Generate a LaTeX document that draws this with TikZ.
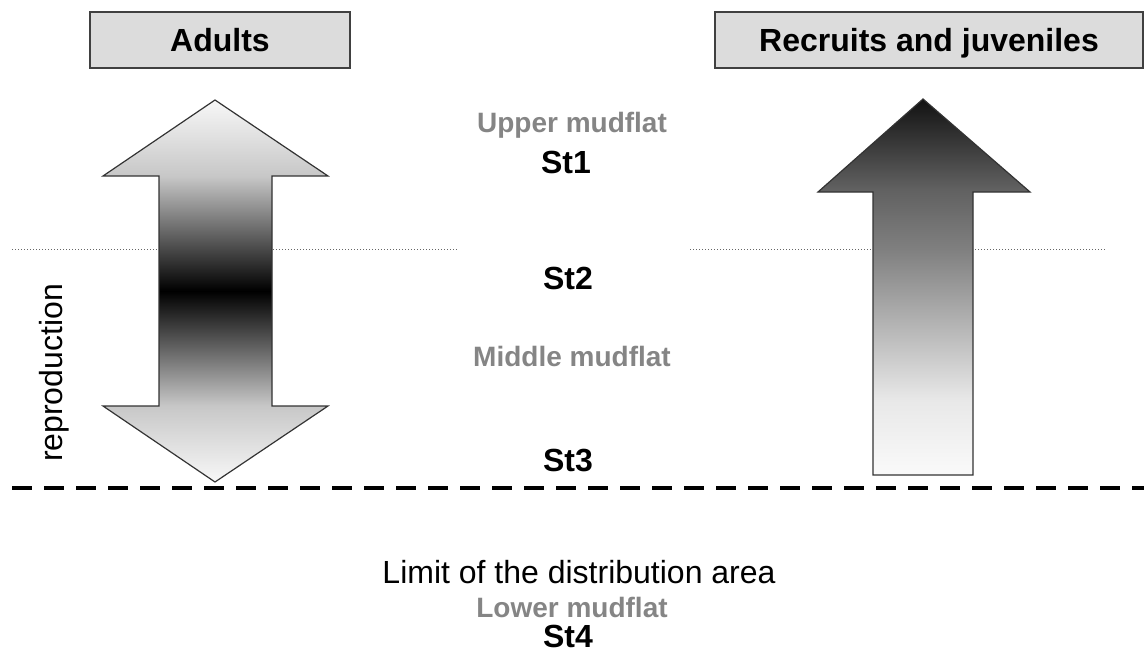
\documentclass[tikz,border=0pt]{standalone}
\usepackage{fontspec}
\setmainfont{Liberation Sans}
\usepackage{tikz}
\definecolor{headbg}{HTML}{DCDCDC}
\definecolor{zonegray}{HTML}{858585}
\pgfdeclareverticalshading{adultfade}{100bp}{color(0bp)=(black!3); color(25bp)=(black!3);
  color(35bp)=(black!22); color(50bp)=(black); color(65bp)=(black!22);
  color(75bp)=(black!3); color(100bp)=(black!3)}
\pgfdeclareverticalshading{recruitfade}{100bp}{color(0bp)=(black!2); color(25bp)=(black!2);
  color(35bp)=(black!9); color(55bp)=(black!50); color(63bp)=(black!62);
  color(75bp)=(black!93); color(100bp)=(black!93)}

\begin{document}
\begin{tikzpicture}[
  x=0.75pt, y=-0.75pt,
  header/.style={rectangle, draw=black!75, line width=1pt, fill=headbg,
    font=\fontsize{24}{28}\selectfont\bfseries, minimum height=42pt, inner sep=0pt,
    text height=17.2pt, text depth=0pt},
  stn/.style={anchor=base, font=\fontsize{24}{28}\selectfont\bfseries},
  zone/.style={anchor=base, text=zonegray, font=\fontsize{21}{25}\selectfont\bfseries},
  plain/.style={font=\fontsize{24}{28}\selectfont},
  band/.style={draw=black!60, line width=0.75pt, dash pattern=on 0.75pt off 1.5pt},
  limitline/.style={draw=black, line width=3pt, dash pattern=on 15pt off 9pt},
  bigarrow/.style={draw=black!80, line width=0.9pt, line join=miter}
]
\useasboundingbox (0,0) rectangle (1144,653);

\node[header, minimum width=195pt] (adults)   at (220,40) {Adults};
\node[header, minimum width=321pt] (recruits) at (929,40) {Recruits and juveniles};

\draw[band] (12,249) -- (458,249);
\draw[band] (690,249) -- (1105,249);

\path[bigarrow, shading=adultfade]
  (215,100) -- (328,176) -- (272,176) -- (272,406) -- (328,406) -- (215,482)
  -- (103,406) -- (159,406) -- (159,176) -- (103,176) -- cycle;
\path[bigarrow, shading=recruitfade]
  (923,99) -- (1030,192) -- (973,192) -- (973,475) -- (873,475)
  -- (873,192) -- (818,192) -- cycle;

\node[zone] (upper)  at (572,132) {Upper mudflat};
\node[stn]  (st1)    at (566,173) {St1};
\node[stn]  (st2)    at (568,289) {St2};
\node[zone] (middle) at (572,366) {Middle mudflat};
\node[stn]  (st3)    at (568,471) {St3};
\node[plain] (limit) at (579,572) {Limit of the distribution area};
\node[zone] (lower)  at (572,617) {Lower mudflat};
\node[stn]  (st4)    at (568,647) {St4};

\node[plain, rotate=90] (repro) at (54,373) {reproduction};

\draw[limitline] (12,488) -- (1144,488);
\end{tikzpicture}
\end{document}
